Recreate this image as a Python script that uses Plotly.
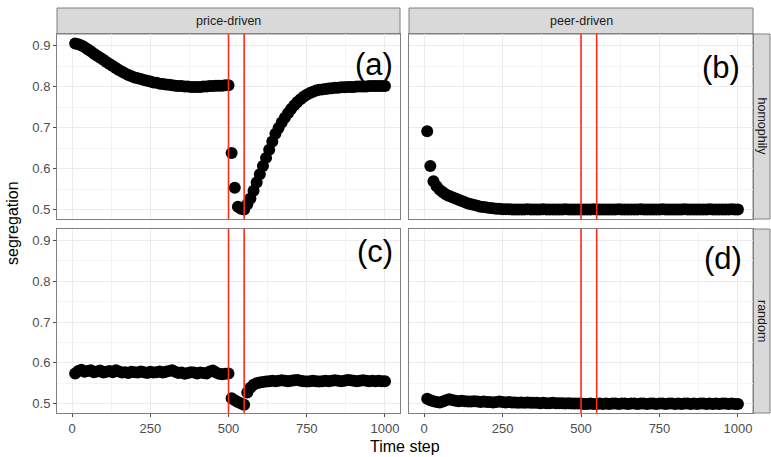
import plotly.graph_objects as go

# ---------------------------------------------------------------- data
time_step = [
    10, 20, 30, 40, 50, 60, 70, 80, 90, 100,
    110, 120, 130, 140, 150, 160, 170, 180, 190, 200,
    210, 220, 230, 240, 250, 260, 270, 280, 290, 300,
    310, 320, 330, 340, 350, 360, 370, 380, 390, 400,
    410, 420, 430, 440, 450, 460, 470, 480, 490, 500,
    510, 520, 530, 540, 550, 560, 570, 580, 590, 600,
    610, 620, 630, 640, 650, 660, 670, 680, 690, 700,
    710, 720, 730, 740, 750, 760, 770, 780, 790, 800,
    810, 820, 830, 840, 850, 860, 870, 880, 890, 900,
    910, 920, 930, 940, 950, 960, 970, 980, 990, 1000,
]

# price-driven, homophily
seg_price_homophily = [
    0.905, 0.903, 0.900, 0.896, 0.891, 0.886, 0.880, 0.875, 0.870, 0.865,
    0.860, 0.855, 0.850, 0.845, 0.840, 0.836, 0.832, 0.828, 0.825, 0.822,
    0.820, 0.818, 0.816, 0.814, 0.812, 0.810, 0.809, 0.807, 0.806, 0.805,
    0.804, 0.803, 0.802, 0.801, 0.801, 0.800, 0.800, 0.799, 0.799, 0.799,
    0.799, 0.800, 0.800, 0.801, 0.801, 0.802, 0.802, 0.802, 0.803, 0.803,
    0.638, 0.553, 0.507, 0.502, 0.500, 0.513, 0.527, 0.546, 0.566, 0.586,
    0.606, 0.626, 0.646, 0.666, 0.685, 0.699, 0.712, 0.724, 0.735, 0.745,
    0.754, 0.762, 0.769, 0.775, 0.780, 0.784, 0.787, 0.790, 0.792, 0.793,
    0.794, 0.795, 0.796, 0.797, 0.797, 0.798, 0.798, 0.799, 0.799, 0.799,
    0.800, 0.800, 0.800, 0.800, 0.801, 0.801, 0.801, 0.801, 0.801, 0.801,
]

# peer-driven, homophily
seg_peer_homophily = [
    0.691, 0.606, 0.569, 0.557, 0.548, 0.542, 0.537, 0.533, 0.530, 0.527,
    0.524, 0.521, 0.518, 0.515, 0.513, 0.511, 0.509, 0.507, 0.506, 0.505,
    0.504, 0.503, 0.502, 0.502, 0.501, 0.501, 0.501, 0.500, 0.500, 0.500,
    0.500, 0.500, 0.501, 0.500, 0.500, 0.500, 0.500, 0.501, 0.500, 0.500,
    0.500, 0.500, 0.500, 0.500, 0.501, 0.500, 0.500, 0.500, 0.500, 0.500,
    0.500, 0.500, 0.500, 0.501, 0.500, 0.500, 0.500, 0.500, 0.500, 0.500,
    0.500, 0.501, 0.500, 0.500, 0.500, 0.500, 0.500, 0.500, 0.501, 0.500,
    0.500, 0.500, 0.500, 0.500, 0.500, 0.501, 0.500, 0.500, 0.500, 0.500,
    0.500, 0.500, 0.501, 0.500, 0.500, 0.500, 0.500, 0.500, 0.500, 0.500,
    0.501, 0.500, 0.500, 0.500, 0.500, 0.500, 0.500, 0.501, 0.500, 0.500,
]

# price-driven, random
seg_price_random = [
    0.574, 0.580, 0.583, 0.578, 0.580, 0.582, 0.577, 0.579, 0.581, 0.576,
    0.578, 0.580, 0.577, 0.582, 0.579, 0.576, 0.577, 0.575, 0.578, 0.577,
    0.576, 0.579, 0.577, 0.575, 0.578, 0.576, 0.577, 0.579, 0.576, 0.578,
    0.580, 0.582, 0.578, 0.575, 0.576, 0.573, 0.575, 0.577, 0.576, 0.574,
    0.576, 0.575, 0.574, 0.579, 0.581, 0.576, 0.573, 0.572, 0.573, 0.574,
    0.513, 0.508, 0.504, 0.500, 0.497, 0.527, 0.539, 0.546, 0.550, 0.552,
    0.553, 0.554, 0.555, 0.556, 0.555, 0.556, 0.557, 0.556, 0.555, 0.556,
    0.557, 0.558, 0.556, 0.555, 0.554, 0.555, 0.556, 0.555, 0.554, 0.555,
    0.556, 0.555, 0.556, 0.557, 0.556, 0.555, 0.556, 0.558, 0.557, 0.556,
    0.555, 0.556, 0.557, 0.556, 0.555, 0.556, 0.555, 0.556, 0.555, 0.555,
]

# peer-driven, random
seg_peer_random = [
    0.512, 0.508, 0.506, 0.504, 0.503, 0.505, 0.508, 0.511, 0.509, 0.507,
    0.506, 0.507, 0.506, 0.505, 0.505, 0.506, 0.505, 0.504, 0.505, 0.504,
    0.504, 0.503, 0.504, 0.505, 0.504, 0.503, 0.504, 0.503, 0.503, 0.502,
    0.503, 0.502, 0.503, 0.502, 0.502, 0.502, 0.501, 0.502, 0.501, 0.501,
    0.502, 0.501, 0.501, 0.501, 0.500, 0.501, 0.500, 0.500, 0.500, 0.500,
    0.499, 0.499, 0.500, 0.499, 0.499, 0.500, 0.499, 0.500, 0.499, 0.500,
    0.500, 0.499, 0.500, 0.500, 0.499, 0.500, 0.500, 0.499, 0.500, 0.500,
    0.499, 0.500, 0.500, 0.499, 0.500, 0.500, 0.499, 0.500, 0.500, 0.499,
    0.500, 0.499, 0.500, 0.500, 0.499, 0.500, 0.499, 0.500, 0.500, 0.499,
    0.500, 0.499, 0.500, 0.499, 0.500, 0.500, 0.499, 0.500, 0.499, 0.499,
]

col_labels = ["price-driven", "peer-driven"]
row_labels = ["homophily", "random"]
panel_tags = ["(a)", "(b)", "(c)", "(d)"]
shock_steps = [500, 550]

x_ticks = [0, 250, 500, 750, 1000]
y_ticks = [0.5, 0.6, 0.7, 0.8, 0.9]

# --------------------------------------------------------------- layout
W, H = 771, 457
FONT = "Liberation Sans, Arial, Helvetica, sans-serif"


def fx(px):
    return px / W


def fy(px):
    return 1 - px / H


col_px = [(57, 400), (409, 753)]
row_px = [(34, 219), (229, 413)]

series = [
    [seg_price_homophily, seg_peer_homophily],
    [seg_price_random, seg_peer_random],
]

fig = go.Figure()
layout = dict(
    width=W, height=H,
    margin=dict(l=0, r=0, t=0, b=0),
    paper_bgcolor="white", plot_bgcolor="white",
    showlegend=False,
    font=dict(family=FONT, color="#4D4D4D"),
)
shapes = []
annotations = []

tag_pos = [(395, 65), (742, 68), (395, 251), (744, 258)]

for r in range(2):
    for c in range(2):
        k = r * 2 + c + 1
        xa = "x" if k == 1 else f"x{k}"
        ya = "y" if k == 1 else f"y{k}"
        xkey = "xaxis" if k == 1 else f"xaxis{k}"
        ykey = "yaxis" if k == 1 else f"yaxis{k}"
        bottom = r == 1
        left = c == 0

        fig.add_trace(go.Scatter(
            x=time_step, y=series[r][c], mode="markers",
            marker=dict(color="black", size=12, line=dict(width=0)),
            xaxis=xa, yaxis=ya, hoverinfo="skip",
        ))

        layout[xkey] = dict(
            domain=[fx(col_px[c][0]), fx(col_px[c][1])],
            anchor=ya, range=[-48, 1048],
            tickmode="array", tickvals=x_ticks,
            showticklabels=bottom,
            ticks="outside" if bottom else "", ticklen=3, tickwidth=1,
            tickcolor="#4D4D4D",
            tickfont=dict(size=13, color="#4D4D4D", family=FONT),
            showgrid=True, gridcolor="#EBEBEB", gridwidth=1,
            minor=dict(tickmode="array", tickvals=[125, 375, 625, 875],
                       showgrid=True, gridcolor="#F4F4F4", gridwidth=1),
            zeroline=False, showline=True, mirror=True,
            linecolor="#808080", linewidth=1,
        )
        layout[ykey] = dict(
            domain=[fy(row_px[r][1]), fy(row_px[r][0])],
            anchor=xa, range=[0.477, 0.928],
            tickmode="array", tickvals=y_ticks,
            ticktext=[f"{v:.1f}" for v in y_ticks],
            showticklabels=left,
            ticks="outside" if left else "", ticklen=3, tickwidth=1,
            tickcolor="#4D4D4D",
            tickfont=dict(size=13, color="#4D4D4D", family=FONT),
            showgrid=True, gridcolor="#EBEBEB", gridwidth=1,
            minor=dict(tickmode="array", tickvals=[0.55, 0.65, 0.75, 0.85],
                       showgrid=True, gridcolor="#F4F4F4", gridwidth=1),
            zeroline=False, showline=True, mirror=True,
            linecolor="#808080", linewidth=1,
        )

        # shock window markers
        for s in shock_steps:
            shapes.append(dict(
                type="line", xref=xa, yref=f"{ya} domain",
                x0=s, x1=s, y0=0, y1=1,
                line=dict(color="#FF2A1A", width=1.6), layer="above",
            ))

        tx, ty = tag_pos[k - 1]
        annotations.append(dict(
            text=panel_tags[k - 1], xref="paper", yref="paper",
            x=fx(tx), y=fy(ty), xanchor="right", yanchor="middle",
            showarrow=False, font=dict(size=31, color="black", family=FONT),
        ))

# facet strips: columns on top
for c, lab in enumerate(col_labels):
    x0, x1 = col_px[c]
    shapes.append(dict(
        type="rect", xref="paper", yref="paper",
        x0=fx(x0), x1=fx(x1), y0=fy(34), y1=fy(8),
        fillcolor="#D9D9D9", line=dict(color="#808080", width=1), layer="below",
    ))
    annotations.append(dict(
        text=lab, xref="paper", yref="paper",
        x=fx((x0 + x1) / 2), y=fy(21), xanchor="center", yanchor="middle",
        showarrow=False, font=dict(size=12.5, color="#1A1A1A", family=FONT),
    ))

# facet strips: rows on the right
for r, lab in enumerate(row_labels):
    y0, y1 = row_px[r]
    shapes.append(dict(
        type="rect", xref="paper", yref="paper",
        x0=fx(753), x1=fx(770), y0=fy(y1), y1=fy(y0),
        fillcolor="#D9D9D9", line=dict(color="#808080", width=1), layer="below",
    ))
    annotations.append(dict(
        text=lab, xref="paper", yref="paper",
        x=fx(762), y=fy((y0 + y1) / 2), xanchor="center", yanchor="middle",
        textangle=90, showarrow=False,
        font=dict(size=12.5, color="#1A1A1A", family=FONT),
    ))

# axis titles
annotations.append(dict(
    text="Time step", xref="paper", yref="paper",
    x=fx(405), y=fy(446), xanchor="center", yanchor="middle",
    showarrow=False, font=dict(size=16, color="black", family=FONT),
))
annotations.append(dict(
    text="segregation", xref="paper", yref="paper",
    x=fx(13), y=fy(223), xanchor="center", yanchor="middle",
    textangle=-90, showarrow=False,
    font=dict(size=16, color="black", family=FONT),
))

layout["shapes"] = shapes
layout["annotations"] = annotations
fig.update_layout(**layout)

fig.write_html("out.html")
